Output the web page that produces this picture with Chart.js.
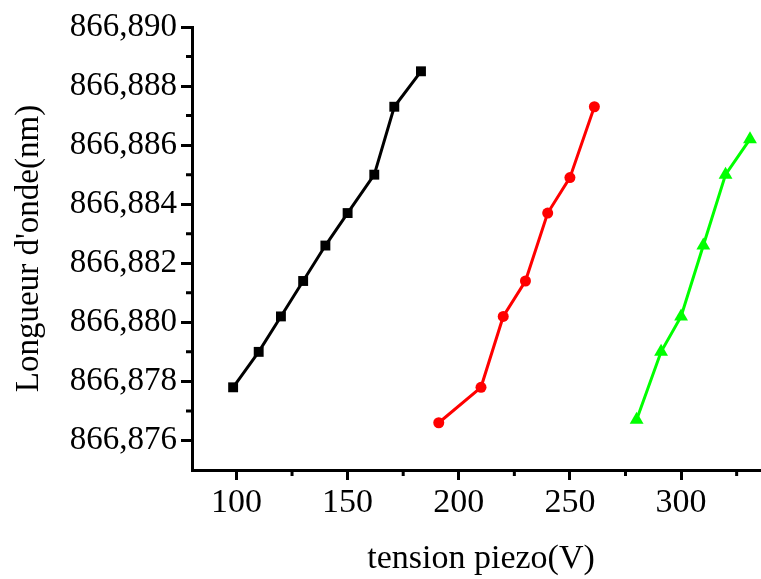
<!DOCTYPE html>
<html>
<head>
<meta charset="utf-8">
<script src="https://cdn.jsdelivr.net/npm/chart.js@4"></script>
<style>
  html, body { margin: 0; padding: 0; background: #fff; overflow: hidden; }
  canvas { display: block; }
</style>
</head>
<body>
<canvas id="chart" width="778" height="579"></canvas>
<script>
// données
const blackX = [98.5, 110, 120, 130, 140, 150, 162, 171, 183];
const blackY = [866.8778, 866.8790, 866.8802, 866.8814, 866.8826, 866.8837, 866.8850, 866.8873, 866.8885];
const redX = [191, 210, 220, 230, 240, 250, 261];
const redY = [866.8766, 866.8778, 866.8802, 866.8814, 866.8837, 866.8849, 866.8873];
const greenX = [280, 291, 300, 310, 320, 331];
const greenY = [866.8767, 866.8790, 866.8802, 866.8826, 866.8850, 866.8862];

// graduations
const xTicks = [100, 150, 200, 250, 300];
const xMinor = [125, 175, 225, 275, 325];
const yTicks = [866.876, 866.878, 866.880, 866.882, 866.884, 866.886, 866.888, 866.890];
const yTickLabels = ["866,876", "866,878", "866,880", "866,882", "866,884", "866,886", "866,888", "866,890"];
const yMinor = [866.877, 866.879, 866.881, 866.883, 866.885, 866.887, 866.889];

function pts(xs, ys) {
    return xs.map((x, i) => ({ x: x, y: ys[i] }));
}

const serif = "'Liberation Serif', 'Times New Roman', serif";

// petites graduations intermédiaires
const minorTicks = {
    id: "minorTicks",
    afterDraw(chart) {
        const ctx = chart.ctx;
        const xs = chart.scales.x, ys = chart.scales.y;
        ctx.save();
        ctx.strokeStyle = "#000";
        ctx.lineWidth = 3;
        ctx.beginPath();
        xMinor.forEach(v => {
            const px = xs.getPixelForValue(v);
            ctx.moveTo(px, xs.top);
            ctx.lineTo(px, xs.top + 6);
        });
        yMinor.forEach(v => {
            const py = ys.getPixelForValue(v);
            ctx.moveTo(ys.right, py);
            ctx.lineTo(ys.right - 6, py);
        });
        ctx.stroke();
        ctx.restore();
    }
};

const ctx = document.getElementById("chart").getContext("2d");
new Chart(ctx, {
    type: "scatter",
    data: {
        datasets: [
            {
                data: pts(blackX, blackY),
                showLine: true,
                borderColor: "#000",
                backgroundColor: "#000",
                borderWidth: 3,
                pointStyle: "rect",
                pointRadius: 7,
                pointBorderWidth: 0,
            },
            {
                data: pts(redX, redY),
                showLine: true,
                borderColor: "#ff0000",
                backgroundColor: "#ff0000",
                borderWidth: 3,
                pointStyle: "circle",
                pointRadius: 5.5,
                pointBorderWidth: 0,
            },
            {
                data: pts(greenX, greenY),
                showLine: true,
                borderColor: "#00ff00",
                backgroundColor: "#00ff00",
                borderWidth: 3,
                pointStyle: "triangle",
                pointRadius: 8,
                pointBorderWidth: 0,
            },
        ],
    },
    options: {
        responsive: false,
        animation: false,
        layout: { padding: { top: 27, right: 0, bottom: 0, left: 0 } },
        plugins: {
            legend: { display: false },
            tooltip: { enabled: false },
        },
        scales: {
            x: {
                type: "linear",
                min: 80,
                max: 340,
                afterBuildTicks: (s) => { s.ticks = xTicks.map(v => ({ value: v })); },
                afterFit: (s) => { s.height = 109; },
                grid: { drawOnChartArea: false, tickLength: 10, tickWidth: 3, tickColor: "#000" },
                border: { display: true, color: "#000", width: 3 },
                ticks: {
                    color: "#000",
                    padding: 3,
                    maxRotation: 0,
                    font: { family: serif, size: 34 },
                },
                title: {
                    display: true,
                    text: "tension piezo(V)",
                    color: "#000",
                    font: { family: serif, size: 34 },
                    padding: { top: 0, bottom: 0 },
                },
            },
            y: {
                type: "linear",
                min: 866.875,
                max: 866.890,
                afterBuildTicks: (s) => { s.ticks = yTicks.map(v => ({ value: v })); },
                afterFit: (s) => { s.width = 192; },
                grid: { drawOnChartArea: false, tickLength: 11, tickWidth: 3, tickColor: "#000" },
                border: { display: true, color: "#000", width: 3 },
                ticks: {
                    color: "#000",
                    padding: 4,
                    font: { family: serif, size: 33 },
                    callback: (v, i) => yTickLabels[i],
                },
                title: {
                    display: true,
                    text: "Longueur d'onde(nm)",
                    color: "#000",
                    font: { family: serif, size: 33 },
                    padding: { top: 10, bottom: 0 },
                },
            },
        },
    },
    plugins: [minorTicks],
});
</script>
</body>
</html>
